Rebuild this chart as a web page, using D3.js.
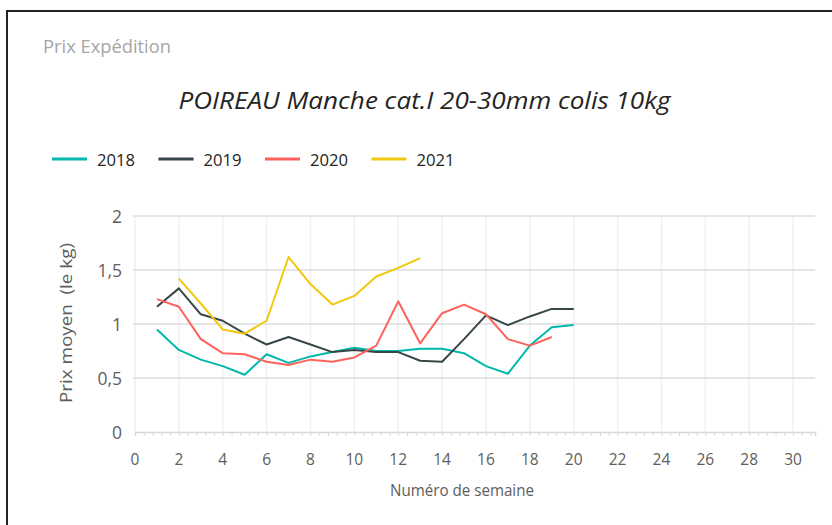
<!DOCTYPE html>
<html>
<head>
<meta charset="utf-8">
<script src="https://cdn.jsdelivr.net/npm/d3@7"></script>
<style>
  body { margin: 0; background: #fff; }
  text { font-family: "Open Sans", "Noto Sans", sans-serif; }
</style>
</head>
<body>
<div id="chart"></div>
<script>
// data
const weeks = [1, 2, 3, 4, 5, 6, 7, 8, 9, 10, 11, 12, 13, 14, 15, 16, 17, 18, 19, 20];
const years = ["2018", "2019", "2020", "2021"];
const prix2018 = [0.95, 0.76, 0.67, 0.61, 0.53, 0.72, 0.64, 0.70, 0.74, 0.78, 0.75, 0.75, 0.77, 0.77, 0.73, 0.61, 0.54, 0.80, 0.97, 0.99];
const prix2019 = [1.16, 1.33, 1.09, 1.03, 0.91, 0.81, 0.88, 0.81, 0.74, 0.76, 0.74, 0.74, 0.66, 0.65, 0.86, 1.08, 0.99, 1.07, 1.14, 1.14];
const prix2020 = [1.23, 1.16, 0.86, 0.73, 0.72, 0.65, 0.62, 0.67, 0.65, 0.69, 0.80, 1.21, 0.82, 1.10, 1.18, 1.09, 0.86, 0.80, 0.88];
const prix2021 = [null, 1.42, 1.19, 0.95, 0.91, 1.03, 1.62, 1.37, 1.18, 1.26, 1.44, 1.52, 1.61];
const xTicks = d3.range(0, 31, 2);
const yTicks = [0, 0.5, 1, 1.5, 2];
const colors = ["#01B8AA", "#374649", "#FD625E", "#F2C80F"];

const seriesList = [prix2018, prix2019, prix2020, prix2021].map((vals, i) => ({
    key: years[i],
    values: vals.map((v, j) => ({ week: weeks[j], prix: v })).filter(d => d.prix !== null)
}));

const outerWidth = 832;
const outerHeight = 525;
const margin = {top: 216, left: 135, bottom: 93, right: 17};
const width = outerWidth - margin.left - margin.right;
const height = outerHeight - margin.top - margin.bottom;

const root = d3.select("#chart")
    .append("svg")
    .attr("width", outerWidth)
    .attr("height", outerHeight);

// frame
root.append("path")
    .attr("d", "M7,532 L7,11 L840,11")
    .attr("fill", "none")
    .attr("stroke", "#222")
    .attr("stroke-width", 2);

root.append("text")
    .attr("x", 43).attr("y", 53)
    .attr("font-size", 17.5)
    .attr("fill", "#a6a6a6")
    .attr("textLength", 128)
    .attr("lengthAdjust", "spacingAndGlyphs")
    .text("Prix Expédition");

root.append("text")
    .attr("x", 424.5).attr("y", 108.5)
    .attr("text-anchor", "middle")
    .attr("font-size", 23.5)
    .attr("font-style", "italic")
    .attr("fill", "#252423")
    .attr("textLength", 492)
    .attr("lengthAdjust", "spacingAndGlyphs")
    .text("POIREAU Manche cat.I 20-30mm colis 10kg");

// legend
const legendX = [52, 158.5, 265, 371.5];
const legend = root.append("g").attr("class", "legend");
years.forEach((y, i) => {
    legend.append("line")
        .attr("x1", legendX[i]).attr("x2", legendX[i] + 35)
        .attr("y1", 159).attr("y2", 159)
        .attr("stroke", colors[i])
        .attr("stroke-width", 3);
    legend.append("text")
        .attr("x", legendX[i] + 45).attr("y", 165.5)
        .attr("font-size", 17)
        .attr("fill", "#252423")
        .attr("textLength", 38)
        .attr("lengthAdjust", "spacingAndGlyphs")
        .text(y);
});

const svg = root.append("g")
    .attr("transform", `translate(${margin.left}, ${margin.top})`);

let xScale = d3.scaleLinear().domain([0, 31]).range([0, width]);
let yScale = d3.scaleLinear().domain([0, 2]).range([height, 0]);
let color = d3.scaleOrdinal().domain(years).range(colors);

// vertical grid
svg.append("g")
    .selectAll("line")
    .data(xTicks)
    .join("line")
    .attr("x1", d => xScale(d)).attr("x2", d => xScale(d))
    .attr("y1", 0).attr("y2", height)
    .attr("stroke", "#f0f0f0")
    .attr("stroke-width", 1.5);

// horizontal grid
svg.append("g")
    .selectAll("line")
    .data(yTicks.filter(d => d > 0))
    .join("line")
    .attr("x1", -2).attr("x2", width)
    .attr("y1", d => yScale(d)).attr("y2", d => yScale(d))
    .attr("stroke", "#dcdcdc")
    .attr("stroke-width", 1.5);

// x axis line + minor ticks
const xAxis = d3.axisBottom(xScale)
    .tickValues(d3.range(0, 31.01, 0.4))
    .tickSize(4)
    .tickFormat("");
svg.append("g")
    .attr("class", "axis-x-axis")
    .attr("transform", `translate(0, ${height})`)
    .call(xAxis)
    .call(g => g.select(".domain").attr("stroke", "#d8d8d8").attr("stroke-width", 1.5))
    .call(g => g.selectAll(".tick line").attr("stroke", "#d8d8d8"));

svg.append("g")
    .selectAll("text")
    .data(xTicks)
    .join("text")
    .attr("x", d => xScale(d))
    .attr("y", height + 32.5)
    .attr("text-anchor", "middle")
    .attr("font-size", 15.5)
    .attr("fill", "#605E5C")
    .text(d => d);

svg.append("g")
    .selectAll("text")
    .data(yTicks)
    .join("text")
    .attr("x", -13)
    .attr("y", d => yScale(d) + 6.5)
    .attr("text-anchor", "end")
    .attr("font-size", 17.5)
    .attr("fill", "#605E5C")
    .text(d => d3.format("")(d).replace(".", ","));

root.append("text")
    .attr("transform", "translate(72, 323) rotate(-90)")
    .attr("text-anchor", "middle")
    .attr("font-size", 15.5)
    .attr("fill", "#605E5C")
    .attr("xml:space", "preserve")
    .attr("textLength", 160)
    .attr("lengthAdjust", "spacingAndGlyphs")
    .text("Prix moyen  (le kg)");

root.append("text")
    .attr("x", 462).attr("y", 496)
    .attr("text-anchor", "middle")
    .attr("font-size", 16.5)
    .attr("fill", "#605E5C")
    .attr("textLength", 144)
    .attr("lengthAdjust", "spacingAndGlyphs")
    .text("Numéro de semaine");

// lines
const line = d3.line()
    .x(d => xScale(d.week))
    .y(d => yScale(d.prix));

svg.selectAll(".serie")
    .data(seriesList)
    .join("path")
    .attr("class", "serie")
    .attr("fill", "none")
    .attr("stroke", d => color(d.key))
    .attr("stroke-width", 2)
    .attr("stroke-linejoin", "round")
    .attr("d", d => line(d.values));
</script>
</body>
</html>
